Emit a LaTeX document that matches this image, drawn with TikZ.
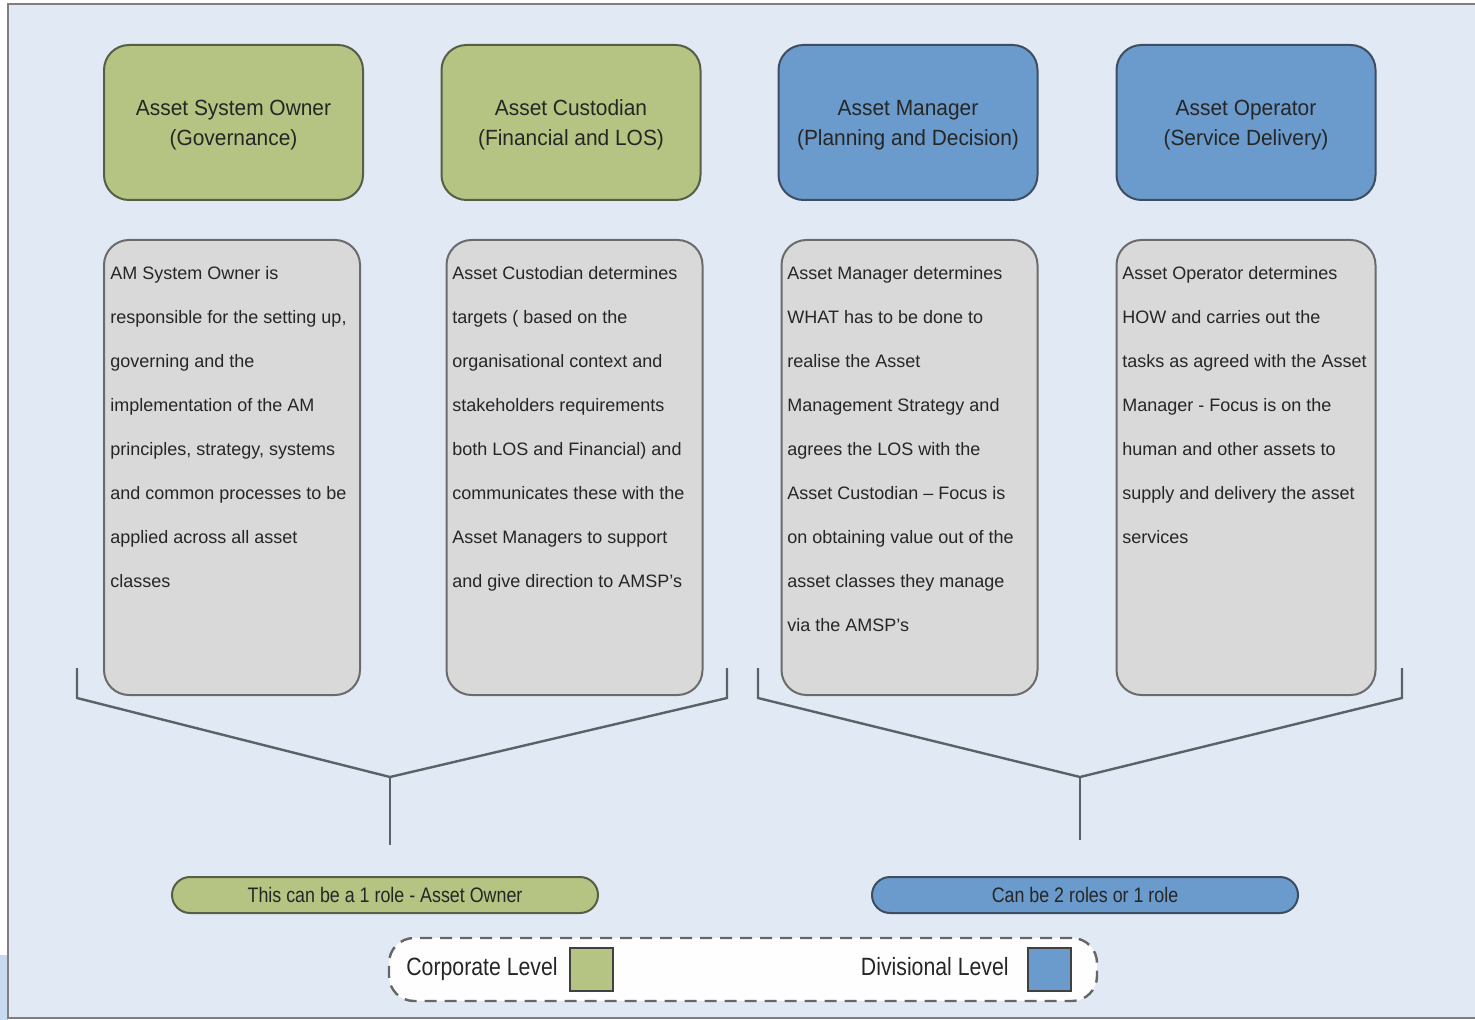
\documentclass[tikz,border=0pt]{standalone}
\usepackage{fontspec}
\setmainfont{Liberation Sans}
\newfontfamily\headfont[FakeStretch=0.95]{Liberation Sans}
\newfontfamily\narrowfont[FakeStretch=0.85]{Liberation Sans}
\definecolor{panelbg}{HTML}{E1EAF4}
\definecolor{framegray}{HTML}{7F7F7F}
\definecolor{corpfill}{HTML}{B5C482}
\definecolor{corpline}{HTML}{575D46}
\definecolor{divfill}{HTML}{6A9BCC}
\definecolor{divline}{HTML}{3E4D5F}
\definecolor{notefill}{HTML}{D9D9D9}
\definecolor{noteline}{HTML}{6B6B6B}
\definecolor{linkgray}{HTML}{5C6168}
\definecolor{edgeblue}{HTML}{C6D9F0}
\tikzset{
  rolebox/.style={draw, line width=1pt, rounded corners=12.5pt,
    minimum width=129.5pt, minimum height=77.5pt, align=center,
    text=black!85, font=\headfont\fontsize{11}{15}\selectfont, inner sep=0pt,
    text depth=0pt},
  corp/.style={fill=corpfill, draw=corpline},
  div/.style={fill=divfill, draw=divline},
  notebox/.style={draw=noteline, fill=notefill, line width=1pt,
    rounded corners=12.5pt, minimum width=128pt, minimum height=227.5pt},
  notetext/.style={anchor=north west, align=left, inner sep=0pt,
    text=black!85, font=\fontsize{9}{22}\selectfont},
  pill/.style={draw, line width=1pt, rounded corners=9pt,
    minimum width=213pt, minimum height=18pt, inner sep=0pt,
    text=black!85, font=\narrowfont\fontsize{10.5}{12}\selectfont},
  bracket/.style={draw=linkgray, line width=1.2pt},
  legendtext/.style={inner sep=0pt, text=black!85,
    font=\narrowfont\fontsize{12.5}{14}\selectfont},
  swatch/.style={draw=black!75, line width=1pt, minimum size=21.5pt, inner sep=0pt}
}
\begin{document}
\begin{tikzpicture}[x=0.5pt, y=-0.5pt]
\useasboundingbox (0,0) rectangle (1475,1020);
\fill[white] (0,0) rectangle (1475,1020);
\fill[edgeblue] (0,955) rectangle (8,1020);
% panel
\fill[panelbg] (8,4) rectangle (1475,1018);
\draw[framegray, line width=1.3pt] (1475,4) -- (8,4) -- (8,1018) -- (1475,1018);

% role headers
\node[rolebox, corp] (h1) at (233.5,122.5) {Asset System Owner\\(Governance)};
\node[rolebox, corp] (h2) at (571,122.5) {Asset Custodian\\(Financial and LOS)};
\node[rolebox, div]  (h3) at (908,122.5) {Asset Manager\\(Planning and Decision)};
\node[rolebox, div]  (h4) at (1246,122.5) {Asset Operator\\(Service Delivery)};

% role descriptions
\node[notebox] (b1) at (232,467.5) {};
\node[notebox] (b2) at (574.5,467.5) {};
\node[notebox] (b3) at (909.5,467.5) {};
\node[notebox, minimum width=129.5pt] (b4) at (1246,467.5) {};

\node[notetext] (t1) at (110,266) {AM System Owner is\\responsible for the setting up,\\governing and the\\implementation of the AM\\principles, strategy, systems\\and common processes to be\\applied across all asset\\classes};
\node[notetext] (t2) at (452,266) {Asset Custodian determines\\targets ( based on the\\organisational context and\\stakeholders requirements\\both LOS and Financial) and\\communicates these with the\\Asset Managers to support\\and give direction to AMSP’s};
\node[notetext] (t3) at (787,266) {Asset Manager determines\\WHAT has to be done to\\realise the Asset\\Management Strategy and\\agrees the LOS with the\\Asset Custodian – Focus is\\on obtaining value out of the\\asset classes they manage\\via the AMSP’s};
\node[notetext] (t4) at (1122,266) {Asset Operator determines\\HOW and carries out the\\tasks as agreed with the Asset\\Manager - Focus is on the\\human and other assets to\\supply and delivery the asset\\services};

% grouping brackets
\coordinate (lA) at (77,668);
\coordinate (lB) at (77,698);
\coordinate (lV) at (390,777);
\coordinate (lC) at (727,698);
\coordinate (lD) at (727,668);
\coordinate (lS) at (390,845);
\coordinate (rA) at (758,668);
\coordinate (rB) at (758,698);
\coordinate (rV) at (1080,777);
\coordinate (rC) at (1402,698);
\coordinate (rD) at (1402,668);
\coordinate (rS) at (1080,840);
\draw[bracket] (lA) -- (lB) -- (lV) -- (lC) -- (lD);
\draw[bracket] (lV) -- (lS);
\draw[bracket] (rA) -- (rB) -- (rV) -- (rC) -- (rD);
\draw[bracket] (rV) -- (rS);

% summary pills
\node[pill, corp] (p1) at (385,895) {This can be a 1 role - Asset Owner};
\node[pill, div]  (p2) at (1085,895) {Can be 2 roles or 1 role};

% legend
\node[draw=black!60, fill=white!96!panelbg, line width=1.2pt, dash pattern=on 6pt off 4pt,
      rounded corners=12.5pt, minimum width=354pt, minimum height=31.5pt] (lg) at (743,969.5) {};
\node[legendtext, anchor=base west] (lc) at (406,975) {Corporate Level};
\node[swatch, fill=corpfill] (sq1) at (591.5,969.5) {};
\node[legendtext, anchor=base east] (ld) at (1009,975) {Divisional Level};
\node[swatch, fill=divfill] (sq2) at (1049,969.5) {};
\end{tikzpicture}
\end{document}
